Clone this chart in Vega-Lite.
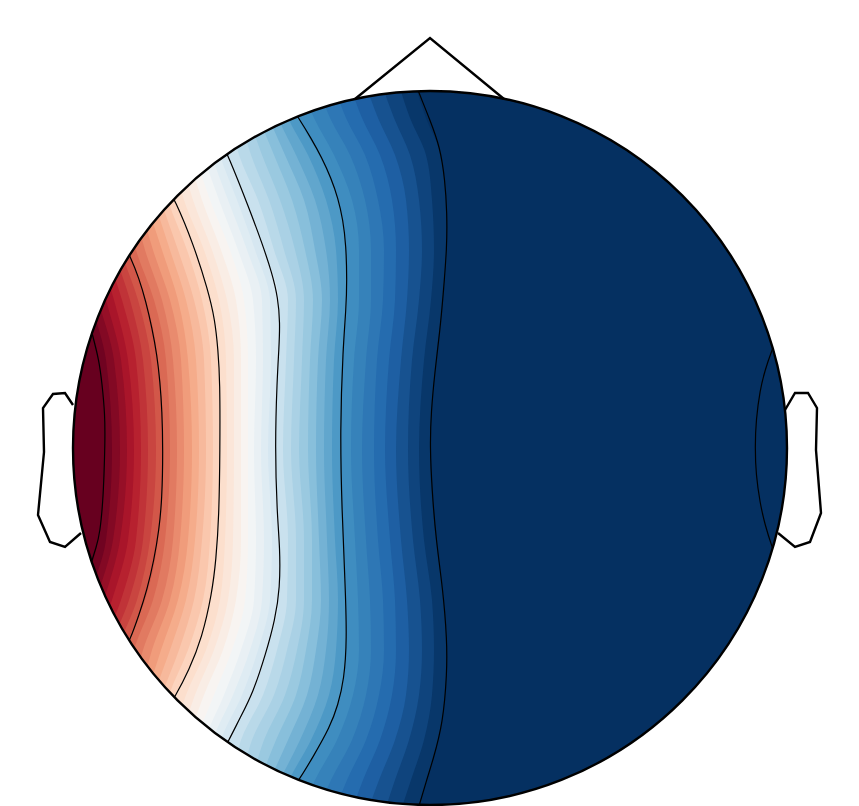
{
"$schema":"https://vega.github.io/schema/vega-lite/v6.json",
"width":859,"height":806,"autosize":{"type":"none"},"padding":0,"background":"white",
"config":{"view":{"stroke":null}},
"datasets":{
"heat":[
{"t":0,"y":370,"x":-440},{"t":0,"y":-370,"x":-440},
{"t":0.0125,"y":363,"x":-400},{"t":0.0125,"y":330,"x":-390},{"t":0.0125,"y":293,"x":-385},{"t":0.0125,"y":248,"x":-370},{"t":0.0125,"y":198,"x":-360},{"t":0.0125,"y":148,"x":-348},{"t":0.0125,"y":88,"x":-331},{"t":0.0125,"y":-2,"x":-325},{"t":0.0125,"y":-92,"x":-332},{"t":0.0125,"y":-152,"x":-350},{"t":0.0125,"y":-202,"x":-365},{"t":0.0125,"y":-247,"x":-370},{"t":0.0125,"y":-292,"x":-385},{"t":0.0125,"y":-332,"x":-390},{"t":0.0125,"y":-362,"x":-400},
{"t":0.0375,"y":363,"x":-392},{"t":0.0375,"y":330,"x":-382},{"t":0.0375,"y":293,"x":-378},{"t":0.0375,"y":248,"x":-363},{"t":0.0375,"y":198,"x":-353},{"t":0.0375,"y":148,"x":-340},{"t":0.0375,"y":88,"x":-324},{"t":0.0375,"y":-2,"x":-318},{"t":0.0375,"y":-92,"x":-324},{"t":0.0375,"y":-152,"x":-342},{"t":0.0375,"y":-202,"x":-358},{"t":0.0375,"y":-247,"x":-363},{"t":0.0375,"y":-292,"x":-378},{"t":0.0375,"y":-332,"x":-382},{"t":0.0375,"y":-362,"x":-392},
{"t":0.0625,"y":363,"x":-385},{"t":0.0625,"y":330,"x":-375},{"t":0.0625,"y":293,"x":-370},{"t":0.0625,"y":248,"x":-356},{"t":0.0625,"y":198,"x":-346},{"t":0.0625,"y":148,"x":-332},{"t":0.0625,"y":88,"x":-316},{"t":0.0625,"y":-2,"x":-310},{"t":0.0625,"y":-92,"x":-317},{"t":0.0625,"y":-152,"x":-334},{"t":0.0625,"y":-202,"x":-350},{"t":0.0625,"y":-247,"x":-356},{"t":0.0625,"y":-292,"x":-370},{"t":0.0625,"y":-332,"x":-375},{"t":0.0625,"y":-362,"x":-385},
{"t":0.0875,"y":363,"x":-378},{"t":0.0875,"y":330,"x":-368},{"t":0.0875,"y":293,"x":-362},{"t":0.0875,"y":248,"x":-348},{"t":0.0875,"y":198,"x":-338},{"t":0.0875,"y":148,"x":-324},{"t":0.0875,"y":88,"x":-309},{"t":0.0875,"y":-2,"x":-303},{"t":0.0875,"y":-92,"x":-310},{"t":0.0875,"y":-152,"x":-326},{"t":0.0875,"y":-202,"x":-342},{"t":0.0875,"y":-247,"x":-348},{"t":0.0875,"y":-292,"x":-362},{"t":0.0875,"y":-332,"x":-368},{"t":0.0875,"y":-362,"x":-378},
{"t":0.1125,"y":363,"x":-370},{"t":0.1125,"y":330,"x":-360},{"t":0.1125,"y":293,"x":-355},{"t":0.1125,"y":248,"x":-341},{"t":0.1125,"y":198,"x":-331},{"t":0.1125,"y":148,"x":-316},{"t":0.1125,"y":88,"x":-302},{"t":0.1125,"y":-2,"x":-296},{"t":0.1125,"y":-92,"x":-302},{"t":0.1125,"y":-152,"x":-318},{"t":0.1125,"y":-202,"x":-335},{"t":0.1125,"y":-247,"x":-341},{"t":0.1125,"y":-292,"x":-355},{"t":0.1125,"y":-332,"x":-360},{"t":0.1125,"y":-362,"x":-370},
{"t":0.1375,"y":363,"x":-362},{"t":0.1375,"y":330,"x":-352},{"t":0.1375,"y":293,"x":-348},{"t":0.1375,"y":248,"x":-334},{"t":0.1375,"y":198,"x":-324},{"t":0.1375,"y":148,"x":-308},{"t":0.1375,"y":88,"x":-294},{"t":0.1375,"y":-2,"x":-289},{"t":0.1375,"y":-92,"x":-294},{"t":0.1375,"y":-152,"x":-309},{"t":0.1375,"y":-202,"x":-328},{"t":0.1375,"y":-247,"x":-334},{"t":0.1375,"y":-292,"x":-348},{"t":0.1375,"y":-332,"x":-352},{"t":0.1375,"y":-362,"x":-362},
{"t":0.1625,"y":363,"x":-355},{"t":0.1625,"y":330,"x":-345},{"t":0.1625,"y":293,"x":-340},{"t":0.1625,"y":248,"x":-326},{"t":0.1625,"y":198,"x":-316},{"t":0.1625,"y":148,"x":-300},{"t":0.1625,"y":88,"x":-287},{"t":0.1625,"y":-2,"x":-282},{"t":0.1625,"y":-92,"x":-287},{"t":0.1625,"y":-152,"x":-301},{"t":0.1625,"y":-202,"x":-320},{"t":0.1625,"y":-247,"x":-326},{"t":0.1625,"y":-292,"x":-340},{"t":0.1625,"y":-332,"x":-345},{"t":0.1625,"y":-362,"x":-355},
{"t":0.1875,"y":363,"x":-348},{"t":0.1875,"y":330,"x":-338},{"t":0.1875,"y":293,"x":-332},{"t":0.1875,"y":248,"x":-319},{"t":0.1875,"y":198,"x":-309},{"t":0.1875,"y":148,"x":-292},{"t":0.1875,"y":88,"x":-279},{"t":0.1875,"y":-2,"x":-274},{"t":0.1875,"y":-92,"x":-280},{"t":0.1875,"y":-152,"x":-293},{"t":0.1875,"y":-202,"x":-312},{"t":0.1875,"y":-247,"x":-319},{"t":0.1875,"y":-292,"x":-332},{"t":0.1875,"y":-332,"x":-338},{"t":0.1875,"y":-362,"x":-348},
{"t":0.2125,"y":363,"x":-340},{"t":0.2125,"y":330,"x":-330},{"t":0.2125,"y":293,"x":-325},{"t":0.2125,"y":248,"x":-312},{"t":0.2125,"y":198,"x":-302},{"t":0.2125,"y":148,"x":-284},{"t":0.2125,"y":88,"x":-272},{"t":0.2125,"y":-2,"x":-267},{"t":0.2125,"y":-92,"x":-272},{"t":0.2125,"y":-152,"x":-285},{"t":0.2125,"y":-202,"x":-305},{"t":0.2125,"y":-247,"x":-312},{"t":0.2125,"y":-292,"x":-325},{"t":0.2125,"y":-332,"x":-330},{"t":0.2125,"y":-362,"x":-340},
{"t":0.2375,"y":363,"x":-332},{"t":0.2375,"y":330,"x":-322},{"t":0.2375,"y":293,"x":-318},{"t":0.2375,"y":248,"x":-305},{"t":0.2375,"y":198,"x":-294},{"t":0.2375,"y":148,"x":-276},{"t":0.2375,"y":88,"x":-264},{"t":0.2375,"y":-2,"x":-260},{"t":0.2375,"y":-92,"x":-265},{"t":0.2375,"y":-152,"x":-277},{"t":0.2375,"y":-202,"x":-296},{"t":0.2375,"y":-247,"x":-305},{"t":0.2375,"y":-292,"x":-318},{"t":0.2375,"y":-332,"x":-322},{"t":0.2375,"y":-362,"x":-332},
{"t":0.2625,"y":363,"x":-325},{"t":0.2625,"y":330,"x":-315},{"t":0.2625,"y":293,"x":-310},{"t":0.2625,"y":248,"x":-298},{"t":0.2625,"y":198,"x":-285},{"t":0.2625,"y":148,"x":-268},{"t":0.2625,"y":88,"x":-257},{"t":0.2625,"y":-2,"x":-253},{"t":0.2625,"y":-92,"x":-257},{"t":0.2625,"y":-152,"x":-268},{"t":0.2625,"y":-202,"x":-287},{"t":0.2625,"y":-247,"x":-298},{"t":0.2625,"y":-292,"x":-310},{"t":0.2625,"y":-332,"x":-315},{"t":0.2625,"y":-362,"x":-325},
{"t":0.2875,"y":363,"x":-318},{"t":0.2875,"y":330,"x":-308},{"t":0.2875,"y":293,"x":-302},{"t":0.2875,"y":248,"x":-291},{"t":0.2875,"y":198,"x":-277},{"t":0.2875,"y":148,"x":-260},{"t":0.2875,"y":88,"x":-249},{"t":0.2875,"y":-2,"x":-246},{"t":0.2875,"y":-92,"x":-250},{"t":0.2875,"y":-152,"x":-260},{"t":0.2875,"y":-202,"x":-278},{"t":0.2875,"y":-247,"x":-290},{"t":0.2875,"y":-292,"x":-302},{"t":0.2875,"y":-332,"x":-308},{"t":0.2875,"y":-362,"x":-318},
{"t":0.3125,"y":363,"x":-310},{"t":0.3125,"y":330,"x":-300},{"t":0.3125,"y":293,"x":-295},{"t":0.3125,"y":248,"x":-284},{"t":0.3125,"y":198,"x":-268},{"t":0.3125,"y":148,"x":-252},{"t":0.3125,"y":88,"x":-242},{"t":0.3125,"y":-2,"x":-238},{"t":0.3125,"y":-92,"x":-242},{"t":0.3125,"y":-152,"x":-252},{"t":0.3125,"y":-202,"x":-269},{"t":0.3125,"y":-247,"x":-283},{"t":0.3125,"y":-292,"x":-295},{"t":0.3125,"y":-332,"x":-300},{"t":0.3125,"y":-362,"x":-310},
{"t":0.3375,"y":363,"x":-302},{"t":0.3375,"y":330,"x":-292},{"t":0.3375,"y":293,"x":-288},{"t":0.3375,"y":248,"x":-276},{"t":0.3375,"y":198,"x":-260},{"t":0.3375,"y":148,"x":-244},{"t":0.3375,"y":88,"x":-234},{"t":0.3375,"y":-2,"x":-231},{"t":0.3375,"y":-92,"x":-235},{"t":0.3375,"y":-152,"x":-244},{"t":0.3375,"y":-202,"x":-260},{"t":0.3375,"y":-247,"x":-276},{"t":0.3375,"y":-292,"x":-288},{"t":0.3375,"y":-332,"x":-292},{"t":0.3375,"y":-362,"x":-302},
{"t":0.3625,"y":363,"x":-295},{"t":0.3625,"y":330,"x":-285},{"t":0.3625,"y":293,"x":-280},{"t":0.3625,"y":248,"x":-269},{"t":0.3625,"y":198,"x":-252},{"t":0.3625,"y":148,"x":-236},{"t":0.3625,"y":88,"x":-226},{"t":0.3625,"y":-2,"x":-224},{"t":0.3625,"y":-92,"x":-228},{"t":0.3625,"y":-152,"x":-236},{"t":0.3625,"y":-202,"x":-251},{"t":0.3625,"y":-247,"x":-268},{"t":0.3625,"y":-292,"x":-280},{"t":0.3625,"y":-332,"x":-285},{"t":0.3625,"y":-362,"x":-295},
{"t":0.3875,"y":363,"x":-288},{"t":0.3875,"y":330,"x":-278},{"t":0.3875,"y":293,"x":-272},{"t":0.3875,"y":248,"x":-262},{"t":0.3875,"y":198,"x":-243},{"t":0.3875,"y":148,"x":-228},{"t":0.3875,"y":88,"x":-219},{"t":0.3875,"y":-2,"x":-217},{"t":0.3875,"y":-92,"x":-220},{"t":0.3875,"y":-152,"x":-227},{"t":0.3875,"y":-202,"x":-242},{"t":0.3875,"y":-247,"x":-261},{"t":0.3875,"y":-292,"x":-272},{"t":0.3875,"y":-332,"x":-278},{"t":0.3875,"y":-362,"x":-288},
{"t":0.4125,"y":363,"x":-280},{"t":0.4125,"y":330,"x":-270},{"t":0.4125,"y":293,"x":-265},{"t":0.4125,"y":248,"x":-255},{"t":0.4125,"y":198,"x":-235},{"t":0.4125,"y":148,"x":-220},{"t":0.4125,"y":88,"x":-211},{"t":0.4125,"y":-2,"x":-210},{"t":0.4125,"y":-92,"x":-213},{"t":0.4125,"y":-152,"x":-219},{"t":0.4125,"y":-202,"x":-233},{"t":0.4125,"y":-247,"x":-254},{"t":0.4125,"y":-292,"x":-265},{"t":0.4125,"y":-332,"x":-270},{"t":0.4125,"y":-362,"x":-280},
{"t":0.4375,"y":363,"x":-272},{"t":0.4375,"y":330,"x":-262},{"t":0.4375,"y":293,"x":-257},{"t":0.4375,"y":248,"x":-246},{"t":0.4375,"y":198,"x":-226},{"t":0.4375,"y":148,"x":-211},{"t":0.4375,"y":88,"x":-204},{"t":0.4375,"y":-2,"x":-203},{"t":0.4375,"y":-92,"x":-205},{"t":0.4375,"y":-152,"x":-210},{"t":0.4375,"y":-202,"x":-224},{"t":0.4375,"y":-247,"x":-244},{"t":0.4375,"y":-292,"x":-257},{"t":0.4375,"y":-332,"x":-262},{"t":0.4375,"y":-362,"x":-272},
{"t":0.4625,"y":363,"x":-265},{"t":0.4625,"y":330,"x":-255},{"t":0.4625,"y":293,"x":-249},{"t":0.4625,"y":248,"x":-237},{"t":0.4625,"y":198,"x":-218},{"t":0.4625,"y":148,"x":-203},{"t":0.4625,"y":88,"x":-196},{"t":0.4625,"y":-2,"x":-196},{"t":0.4625,"y":-92,"x":-197},{"t":0.4625,"y":-152,"x":-202},{"t":0.4625,"y":-202,"x":-216},{"t":0.4625,"y":-247,"x":-235},{"t":0.4625,"y":-292,"x":-249},{"t":0.4625,"y":-332,"x":-254},{"t":0.4625,"y":-362,"x":-265},
{"t":0.4875,"y":363,"x":-258},{"t":0.4875,"y":330,"x":-248},{"t":0.4875,"y":293,"x":-241},{"t":0.4875,"y":248,"x":-228},{"t":0.4875,"y":198,"x":-209},{"t":0.4875,"y":148,"x":-194},{"t":0.4875,"y":88,"x":-189},{"t":0.4875,"y":-2,"x":-189},{"t":0.4875,"y":-92,"x":-189},{"t":0.4875,"y":-152,"x":-194},{"t":0.4875,"y":-202,"x":-207},{"t":0.4875,"y":-247,"x":-226},{"t":0.4875,"y":-292,"x":-241},{"t":0.4875,"y":-332,"x":-247},{"t":0.4875,"y":-362,"x":-258},
{"t":0.5125,"y":363,"x":-250},{"t":0.5125,"y":330,"x":-240},{"t":0.5125,"y":293,"x":-234},{"t":0.5125,"y":248,"x":-220},{"t":0.5125,"y":198,"x":-200},{"t":0.5125,"y":148,"x":-186},{"t":0.5125,"y":88,"x":-182},{"t":0.5125,"y":-2,"x":-182},{"t":0.5125,"y":-92,"x":-182},{"t":0.5125,"y":-152,"x":-185},{"t":0.5125,"y":-202,"x":-198},{"t":0.5125,"y":-247,"x":-216},{"t":0.5125,"y":-292,"x":-233},{"t":0.5125,"y":-332,"x":-239},{"t":0.5125,"y":-362,"x":-250},
{"t":0.5375,"y":363,"x":-242},{"t":0.5375,"y":330,"x":-232},{"t":0.5375,"y":293,"x":-226},{"t":0.5375,"y":248,"x":-211},{"t":0.5375,"y":198,"x":-192},{"t":0.5375,"y":148,"x":-177},{"t":0.5375,"y":88,"x":-174},{"t":0.5375,"y":-2,"x":-176},{"t":0.5375,"y":-92,"x":-174},{"t":0.5375,"y":-152,"x":-176},{"t":0.5375,"y":-202,"x":-189},{"t":0.5375,"y":-247,"x":-206},{"t":0.5375,"y":-292,"x":-225},{"t":0.5375,"y":-332,"x":-231},{"t":0.5375,"y":-362,"x":-242},
{"t":0.5625,"y":363,"x":-235},{"t":0.5625,"y":330,"x":-225},{"t":0.5625,"y":293,"x":-218},{"t":0.5625,"y":248,"x":-202},{"t":0.5625,"y":198,"x":-183},{"t":0.5625,"y":148,"x":-168},{"t":0.5625,"y":88,"x":-167},{"t":0.5625,"y":-2,"x":-169},{"t":0.5625,"y":-92,"x":-166},{"t":0.5625,"y":-152,"x":-168},{"t":0.5625,"y":-202,"x":-180},{"t":0.5625,"y":-247,"x":-197},{"t":0.5625,"y":-292,"x":-217},{"t":0.5625,"y":-332,"x":-224},{"t":0.5625,"y":-362,"x":-235},
{"t":0.5875,"y":363,"x":-228},{"t":0.5875,"y":330,"x":-218},{"t":0.5875,"y":293,"x":-210},{"t":0.5875,"y":248,"x":-193},{"t":0.5875,"y":198,"x":-175},{"t":0.5875,"y":148,"x":-160},{"t":0.5875,"y":88,"x":-159},{"t":0.5875,"y":-2,"x":-162},{"t":0.5875,"y":-92,"x":-158},{"t":0.5875,"y":-152,"x":-160},{"t":0.5875,"y":-202,"x":-172},{"t":0.5875,"y":-247,"x":-188},{"t":0.5875,"y":-292,"x":-209},{"t":0.5875,"y":-332,"x":-216},{"t":0.5875,"y":-362,"x":-228},
{"t":0.6125,"y":363,"x":-220},{"t":0.6125,"y":330,"x":-210},{"t":0.6125,"y":293,"x":-202},{"t":0.6125,"y":248,"x":-184},{"t":0.6125,"y":198,"x":-166},{"t":0.6125,"y":148,"x":-151},{"t":0.6125,"y":88,"x":-152},{"t":0.6125,"y":-2,"x":-155},{"t":0.6125,"y":-92,"x":-150},{"t":0.6125,"y":-152,"x":-151},{"t":0.6125,"y":-202,"x":-163},{"t":0.6125,"y":-247,"x":-178},{"t":0.6125,"y":-292,"x":-201},{"t":0.6125,"y":-332,"x":-208},{"t":0.6125,"y":-362,"x":-220},
{"t":0.6375,"y":363,"x":-211},{"t":0.6375,"y":330,"x":-200},{"t":0.6375,"y":293,"x":-191},{"t":0.6375,"y":248,"x":-172},{"t":0.6375,"y":198,"x":-156},{"t":0.6375,"y":148,"x":-142},{"t":0.6375,"y":88,"x":-144},{"t":0.6375,"y":-2,"x":-147},{"t":0.6375,"y":-92,"x":-142},{"t":0.6375,"y":-152,"x":-143},{"t":0.6375,"y":-202,"x":-153},{"t":0.6375,"y":-247,"x":-167},{"t":0.6375,"y":-292,"x":-189},{"t":0.6375,"y":-332,"x":-198},{"t":0.6375,"y":-362,"x":-211},
{"t":0.6625,"y":363,"x":-201},{"t":0.6625,"y":330,"x":-190},{"t":0.6625,"y":293,"x":-179},{"t":0.6625,"y":248,"x":-161},{"t":0.6625,"y":198,"x":-146},{"t":0.6625,"y":148,"x":-134},{"t":0.6625,"y":88,"x":-136},{"t":0.6625,"y":-2,"x":-139},{"t":0.6625,"y":-92,"x":-134},{"t":0.6625,"y":-152,"x":-134},{"t":0.6625,"y":-202,"x":-143},{"t":0.6625,"y":-247,"x":-156},{"t":0.6625,"y":-292,"x":-178},{"t":0.6625,"y":-332,"x":-189},{"t":0.6625,"y":-362,"x":-201},
{"t":0.6875,"y":363,"x":-192},{"t":0.6875,"y":330,"x":-181},{"t":0.6875,"y":293,"x":-168},{"t":0.6875,"y":248,"x":-150},{"t":0.6875,"y":198,"x":-135},{"t":0.6875,"y":148,"x":-126},{"t":0.6875,"y":88,"x":-128},{"t":0.6875,"y":-2,"x":-131},{"t":0.6875,"y":-92,"x":-126},{"t":0.6875,"y":-152,"x":-126},{"t":0.6875,"y":-202,"x":-133},{"t":0.6875,"y":-247,"x":-145},{"t":0.6875,"y":-292,"x":-166},{"t":0.6875,"y":-332,"x":-179},{"t":0.6875,"y":-362,"x":-192},
{"t":0.7125,"y":363,"x":-182},{"t":0.7125,"y":330,"x":-171},{"t":0.7125,"y":293,"x":-156},{"t":0.7125,"y":248,"x":-138},{"t":0.7125,"y":198,"x":-125},{"t":0.7125,"y":148,"x":-117},{"t":0.7125,"y":88,"x":-120},{"t":0.7125,"y":-2,"x":-122},{"t":0.7125,"y":-92,"x":-118},{"t":0.7125,"y":-152,"x":-118},{"t":0.7125,"y":-202,"x":-124},{"t":0.7125,"y":-247,"x":-134},{"t":0.7125,"y":-292,"x":-154},{"t":0.7125,"y":-332,"x":-170},{"t":0.7125,"y":-362,"x":-182},
{"t":0.7375,"y":363,"x":-173},{"t":0.7375,"y":330,"x":-161},{"t":0.7375,"y":293,"x":-145},{"t":0.7375,"y":248,"x":-126},{"t":0.7375,"y":198,"x":-115},{"t":0.7375,"y":148,"x":-108},{"t":0.7375,"y":88,"x":-112},{"t":0.7375,"y":-2,"x":-114},{"t":0.7375,"y":-92,"x":-111},{"t":0.7375,"y":-152,"x":-109},{"t":0.7375,"y":-202,"x":-114},{"t":0.7375,"y":-247,"x":-123},{"t":0.7375,"y":-292,"x":-142},{"t":0.7375,"y":-332,"x":-160},{"t":0.7375,"y":-362,"x":-173},
{"t":0.7625,"y":363,"x":-164},{"t":0.7625,"y":330,"x":-152},{"t":0.7625,"y":293,"x":-134},{"t":0.7625,"y":248,"x":-115},{"t":0.7625,"y":198,"x":-104},{"t":0.7625,"y":148,"x":-100},{"t":0.7625,"y":88,"x":-104},{"t":0.7625,"y":-2,"x":-106},{"t":0.7625,"y":-92,"x":-103},{"t":0.7625,"y":-152,"x":-101},{"t":0.7625,"y":-202,"x":-104},{"t":0.7625,"y":-247,"x":-112},{"t":0.7625,"y":-292,"x":-130},{"t":0.7625,"y":-332,"x":-150},{"t":0.7625,"y":-362,"x":-164},
{"t":0.7875,"y":363,"x":-154},{"t":0.7875,"y":330,"x":-142},{"t":0.7875,"y":293,"x":-122},{"t":0.7875,"y":248,"x":-104},{"t":0.7875,"y":198,"x":-94},{"t":0.7875,"y":148,"x":-92},{"t":0.7875,"y":88,"x":-96},{"t":0.7875,"y":-2,"x":-98},{"t":0.7875,"y":-92,"x":-95},{"t":0.7875,"y":-152,"x":-92},{"t":0.7875,"y":-202,"x":-94},{"t":0.7875,"y":-247,"x":-101},{"t":0.7875,"y":-292,"x":-119},{"t":0.7875,"y":-332,"x":-141},{"t":0.7875,"y":-362,"x":-154},
{"t":0.8125,"y":363,"x":-145},{"t":0.8125,"y":330,"x":-132},{"t":0.8125,"y":293,"x":-111},{"t":0.8125,"y":248,"x":-92},{"t":0.8125,"y":198,"x":-84},{"t":0.8125,"y":148,"x":-83},{"t":0.8125,"y":88,"x":-88},{"t":0.8125,"y":-2,"x":-90},{"t":0.8125,"y":-92,"x":-87},{"t":0.8125,"y":-152,"x":-84},{"t":0.8125,"y":-202,"x":-84},{"t":0.8125,"y":-247,"x":-90},{"t":0.8125,"y":-292,"x":-107},{"t":0.8125,"y":-332,"x":-131},{"t":0.8125,"y":-362,"x":-145},
{"t":0.8375,"y":363,"x":-129},{"t":0.8375,"y":330,"x":-116},{"t":0.8375,"y":293,"x":-96},{"t":0.8375,"y":248,"x":-78},{"t":0.8375,"y":198,"x":-71},{"t":0.8375,"y":148,"x":-71},{"t":0.8375,"y":88,"x":-76},{"t":0.8375,"y":-2,"x":-79},{"t":0.8375,"y":-92,"x":-75},{"t":0.8375,"y":-152,"x":-72},{"t":0.8375,"y":-202,"x":-71},{"t":0.8375,"y":-247,"x":-77},{"t":0.8375,"y":-292,"x":-93},{"t":0.8375,"y":-332,"x":-115},{"t":0.8375,"y":-362,"x":-128},
{"t":0.8625,"y":363,"x":-112},{"t":0.8625,"y":330,"x":-100},{"t":0.8625,"y":293,"x":-80},{"t":0.8625,"y":248,"x":-65},{"t":0.8625,"y":198,"x":-59},{"t":0.8625,"y":148,"x":-59},{"t":0.8625,"y":88,"x":-64},{"t":0.8625,"y":-2,"x":-68},{"t":0.8625,"y":-92,"x":-64},{"t":0.8625,"y":-152,"x":-60},{"t":0.8625,"y":-202,"x":-59},{"t":0.8625,"y":-247,"x":-64},{"t":0.8625,"y":-292,"x":-78},{"t":0.8625,"y":-332,"x":-99},{"t":0.8625,"y":-362,"x":-112},
{"t":0.8875,"y":363,"x":-96},{"t":0.8875,"y":330,"x":-84},{"t":0.8875,"y":293,"x":-65},{"t":0.8875,"y":248,"x":-52},{"t":0.8875,"y":198,"x":-46},{"t":0.8875,"y":148,"x":-47},{"t":0.8875,"y":88,"x":-53},{"t":0.8875,"y":-2,"x":-56},{"t":0.8875,"y":-92,"x":-52},{"t":0.8875,"y":-152,"x":-47},{"t":0.8875,"y":-202,"x":-46},{"t":0.8875,"y":-247,"x":-51},{"t":0.8875,"y":-292,"x":-64},{"t":0.8875,"y":-332,"x":-83},{"t":0.8875,"y":-362,"x":-95},
{"t":0.9125,"y":363,"x":-80},{"t":0.9125,"y":330,"x":-68},{"t":0.9125,"y":293,"x":-50},{"t":0.9125,"y":248,"x":-38},{"t":0.9125,"y":198,"x":-34},{"t":0.9125,"y":148,"x":-35},{"t":0.9125,"y":88,"x":-41},{"t":0.9125,"y":-2,"x":-45},{"t":0.9125,"y":-92,"x":-40},{"t":0.9125,"y":-152,"x":-35},{"t":0.9125,"y":-202,"x":-34},{"t":0.9125,"y":-247,"x":-38},{"t":0.9125,"y":-292,"x":-50},{"t":0.9125,"y":-332,"x":-67},{"t":0.9125,"y":-362,"x":-78},
{"t":0.9375,"y":363,"x":-64},{"t":0.9375,"y":330,"x":-52},{"t":0.9375,"y":293,"x":-35},{"t":0.9375,"y":248,"x":-24},{"t":0.9375,"y":198,"x":-21},{"t":0.9375,"y":148,"x":-23},{"t":0.9375,"y":88,"x":-29},{"t":0.9375,"y":-2,"x":-34},{"t":0.9375,"y":-92,"x":-29},{"t":0.9375,"y":-152,"x":-23},{"t":0.9375,"y":-202,"x":-21},{"t":0.9375,"y":-247,"x":-24},{"t":0.9375,"y":-292,"x":-35},{"t":0.9375,"y":-332,"x":-51},{"t":0.9375,"y":-362,"x":-62},
{"t":0.9625,"y":363,"x":-48},{"t":0.9625,"y":330,"x":-36},{"t":0.9625,"y":293,"x":-20},{"t":0.9625,"y":248,"x":-11},{"t":0.9625,"y":198,"x":-8},{"t":0.9625,"y":148,"x":-11},{"t":0.9625,"y":88,"x":-18},{"t":0.9625,"y":-2,"x":-22},{"t":0.9625,"y":-92,"x":-17},{"t":0.9625,"y":-152,"x":-10},{"t":0.9625,"y":-202,"x":-8},{"t":0.9625,"y":-247,"x":-11},{"t":0.9625,"y":-292,"x":-21},{"t":0.9625,"y":-332,"x":-35},{"t":0.9625,"y":-362,"x":-45},
{"t":0.9875,"y":363,"x":-31},{"t":0.9875,"y":330,"x":-20},{"t":0.9875,"y":293,"x":-4},{"t":0.9875,"y":248,"x":2},{"t":0.9875,"y":198,"x":4},{"t":0.9875,"y":148,"x":1},{"t":0.9875,"y":88,"x":-6},{"t":0.9875,"y":-2,"x":-11},{"t":0.9875,"y":-92,"x":-6},{"t":0.9875,"y":-152,"x":2},{"t":0.9875,"y":-202,"x":4},{"t":0.9875,"y":-247,"x":2},{"t":0.9875,"y":-292,"x":-6},{"t":0.9875,"y":-332,"x":-19},{"t":0.9875,"y":-362,"x":-29},
{"t":1,"y":363,"x":-15},{"t":1,"y":330,"x":-4},{"t":1,"y":293,"x":11},{"t":1,"y":248,"x":16},{"t":1,"y":198,"x":17},{"t":1,"y":148,"x":13},{"t":1,"y":88,"x":6},{"t":1,"y":-2,"x":0},{"t":1,"y":-92,"x":6},{"t":1,"y":-152,"x":14},{"t":1,"y":-202,"x":17},{"t":1,"y":-247,"x":15},{"t":1,"y":-292,"x":8},{"t":1,"y":-332,"x":-3},{"t":1,"y":-362,"x":-12}
],
"contours":[
{"c":"A","x":-342,"y":130},{"c":"A","x":-338,"y":115},{"c":"A","x":-331,"y":88},{"c":"A","x":-328,"y":65},{"c":"A","x":-325,"y":33},{"c":"A","x":-325,"y":5},{"c":"A","x":-326,"y":-27},{"c":"A","x":-327,"y":-52},{"c":"A","x":-330,"y":-85},{"c":"A","x":-334,"y":-100},{"c":"A","x":-338,"y":-112},{"c":"A","x":-342,"y":-127},
{"c":"B","x":-308,"y":208},{"c":"B","x":-300,"y":192},{"c":"B","x":-291,"y":170},{"c":"B","x":-284,"y":146},{"c":"B","x":-278,"y":120},{"c":"B","x":-273,"y":93},{"c":"B","x":-270,"y":66},{"c":"B","x":-268,"y":38},{"c":"B","x":-267,"y":-2},{"c":"B","x":-268,"y":-52},{"c":"B","x":-271,"y":-82},{"c":"B","x":-276,"y":-112},{"c":"B","x":-283,"y":-142},{"c":"B","x":-291,"y":-167},{"c":"B","x":-300,"y":-192},{"c":"B","x":-308,"y":-207},
{"c":"C","x":-265,"y":265},{"c":"C","x":-255,"y":248},{"c":"C","x":-237,"y":205},{"c":"C","x":-222,"y":158},{"c":"C","x":-215,"y":128},{"c":"C","x":-212,"y":98},{"c":"C","x":-210,"y":68},{"c":"C","x":-210,"y":-2},{"c":"C","x":-211,"y":-69},{"c":"C","x":-214,"y":-112},{"c":"C","x":-218,"y":-145},{"c":"C","x":-228,"y":-190},{"c":"C","x":-241,"y":-222},{"c":"C","x":-255,"y":-249},{"c":"C","x":-265,"y":-264},
{"c":"D","x":-212,"y":313},{"c":"D","x":-202,"y":293},{"c":"D","x":-181,"y":240},{"c":"D","x":-168,"y":205},{"c":"D","x":-158,"y":175},{"c":"D","x":-152,"y":150},{"c":"D","x":-150,"y":125},{"c":"D","x":-151,"y":100},{"c":"D","x":-153,"y":68},{"c":"D","x":-155,"y":1},{"c":"D","x":-153,"y":-65},{"c":"D","x":-150,"y":-100},{"c":"D","x":-150,"y":-140},{"c":"D","x":-155,"y":-172},{"c":"D","x":-164,"y":-205},{"c":"D","x":-177,"y":-245},{"c":"D","x":-190,"y":-270},{"c":"D","x":-202,"y":-294},{"c":"D","x":-212,"y":-312},
{"c":"E","x":-140,"y":343},{"c":"E","x":-132,"y":331},{"c":"E","x":-119,"y":310},{"c":"E","x":-108,"y":290},{"c":"E","x":-99,"y":270},{"c":"E","x":-92,"y":250},{"c":"E","x":-87,"y":228},{"c":"E","x":-84,"y":203},{"c":"E","x":-83,"y":168},{"c":"E","x":-84,"y":138},{"c":"E","x":-87,"y":101},{"c":"E","x":-90,"y":18},{"c":"E","x":-88,"y":-65},{"c":"E","x":-85,"y":-132},{"c":"E","x":-83,"y":-192},{"c":"E","x":-86,"y":-232},{"c":"E","x":-92,"y":-257},{"c":"E","x":-100,"y":-279},{"c":"E","x":-117,"y":-309},{"c":"E","x":-131,"y":-332},{"c":"E","x":-140,"y":-344},
{"c":"F","x":-16,"y":368},{"c":"F","x":-11,"y":355},{"c":"F","x":0,"y":328},{"c":"F","x":10,"y":301},{"c":"F","x":15,"y":268},{"c":"F","x":17,"y":235},{"c":"F","x":17,"y":201},{"c":"F","x":13,"y":151},{"c":"F","x":10,"y":118},{"c":"F","x":5,"y":78},{"c":"F","x":1,"y":35},{"c":"F","x":0,"y":1},{"c":"F","x":2,"y":-42},{"c":"F","x":6,"y":-92},{"c":"F","x":13,"y":-142},{"c":"F","x":17,"y":-192},{"c":"F","x":17,"y":-225},{"c":"F","x":13,"y":-275},{"c":"F","x":3,"y":-312},{"c":"F","x":-4,"y":-334},{"c":"F","x":-10,"y":-355},{"c":"F","x":-14,"y":-367},
{"c":"G","x":348,"y":113},{"c":"G","x":342,"y":98},{"c":"G","x":335,"y":78},{"c":"G","x":330,"y":58},{"c":"G","x":326,"y":28},{"c":"G","x":325,"y":1},{"c":"G","x":326,"y":-27},{"c":"G","x":330,"y":-55},{"c":"G","x":335,"y":-77},{"c":"G","x":342,"y":-99},{"c":"G","x":348,"y":-114}
],
"head":[
{"g":"nose","x":-75,"y":349},{"g":"nose","x":0,"y":410},{"g":"nose","x":74,"y":349},
{"g":"earL","x":-357,"y":43},{"g":"earL","x":-365,"y":55},{"g":"earL","x":-377,"y":54},{"g":"earL","x":-387,"y":40},{"g":"earL","x":-386,"y":-4},{"g":"earL","x":-392,"y":-67},{"g":"earL","x":-380,"y":-94},{"g":"earL","x":-365,"y":-99},{"g":"earL","x":-349,"y":-85},
{"g":"earR","x":355,"y":38},{"g":"earR","x":365,"y":55},{"g":"earR","x":378,"y":55},{"g":"earR","x":387,"y":40},{"g":"earR","x":386,"y":-2},{"g":"earR","x":391,"y":-65},{"g":"earR","x":380,"y":-94},{"g":"earR","x":365,"y":-99},{"g":"earR","x":348,"y":-85}
]
},
"layer":[
{"data":{"name":"heat"},
 "mark":{"type":"area","orient":"horizontal","interpolate":"monotone","opacity":1,"fillOpacity":1},
 "encoding":{
  "y":{"field":"y","type":"quantitative","scale":{"domain":[-358,448],"nice":false,"zero":false},"axis":null},
  "x":{"field":"x","type":"quantitative","stack":null,"scale":{"domain":[-430,429],"nice":false,"zero":false},"axis":null},
  "x2":{"datum":440},
  "detail":{"field":"t","type":"nominal"},
  "color":{"field":"t","type":"quantitative","scale":{"type":"linear","domain":[0,0.1,0.2,0.3,0.4,0.5,0.6,0.7,0.8,0.9,1],"range":["#67001f","#b2182b","#d6604d","#f4a582","#fddbc7","#f7f7f7","#d1e5f0","#92c5de","#4393c3","#2166ac","#053061"],"interpolate":"rgb"},"legend":null}
 }},
{"data":{"name":"contours"},
 "mark":{"type":"line","color":"black","strokeWidth":1.2,"interpolate":"basis"},
 "encoding":{
  "x":{"field":"x","type":"quantitative","scale":{"domain":[-430,429],"nice":false,"zero":false},"axis":null},
  "y":{"field":"y","type":"quantitative","scale":{"domain":[-358,448],"nice":false,"zero":false},"axis":null},
  "detail":{"field":"c","type":"nominal"},
  "order":{"value":null}
 }},
{"data":{"values":[{}]},
 "mark":{"type":"arc","fill":"white","stroke":"black","strokeWidth":2.4,"theta":0,"theta2":6.2832},
 "encoding":{
  "x":{"datum":0,"type":"quantitative","scale":{"domain":[-430,429],"nice":false,"zero":false},"axis":null},
  "y":{"datum":0,"type":"quantitative","scale":{"domain":[-358,448],"nice":false,"zero":false},"axis":null},
  "radius":{"datum":357,"type":"quantitative","scale":{"type":"linear","domain":[0,357],"range":[0,357],"zero":true}},
  "radius2":{"datum":1000}
 }},
{"data":{"name":"head"},
 "mark":{"type":"line","color":"black","strokeWidth":2.4,"strokeJoin":"miter"},
 "encoding":{
  "x":{"field":"x","type":"quantitative","scale":{"domain":[-430,429],"nice":false,"zero":false},"axis":null},
  "y":{"field":"y","type":"quantitative","scale":{"domain":[-358,448],"nice":false,"zero":false},"axis":null},
  "detail":{"field":"g","type":"nominal"},
  "order":{"value":null}
 }}
]
}
